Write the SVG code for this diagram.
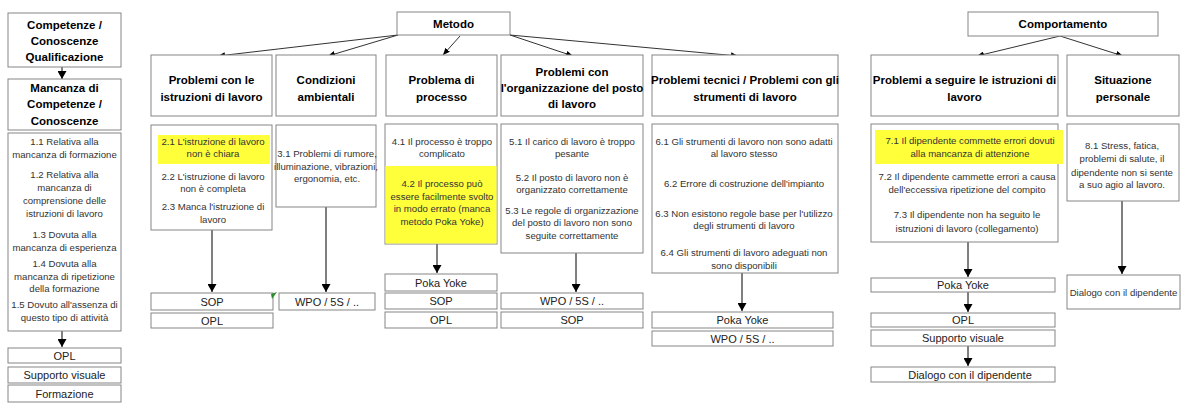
<svg xmlns="http://www.w3.org/2000/svg" width="1190" height="409" viewBox="0 0 1190 409">
<style>
.b{fill:#fff;stroke:#858585;stroke-width:1}
.y{fill:#ffff3a}
.h{font-family:"Liberation Sans",Arial,sans-serif;font-weight:bold;font-size:11.5px;fill:#000;text-anchor:middle}
.t{font-family:"Liberation Sans",Arial,sans-serif;font-size:9.6px;fill:#333;text-anchor:middle}
.s{font-family:"Liberation Sans",Arial,sans-serif;font-size:11px;fill:#222;text-anchor:middle}
.c{stroke:#000;stroke-width:1;fill:none;marker-end:url(#a)}
.d{stroke:#333;stroke-width:1;fill:none;marker-end:url(#a2)}
</style>
<defs>
<marker id="a" markerWidth="8" markerHeight="9" refX="8" refY="4.5" orient="auto" markerUnits="userSpaceOnUse"><path d="M0,0 L8,4.5 L0,9 z" fill="#000"/></marker>
<marker id="a2" markerWidth="7" markerHeight="6" refX="7" refY="3" orient="auto" markerUnits="userSpaceOnUse"><path d="M0,0 L7,3 L0,6 z" fill="#000"/></marker>
</defs>
<rect width="1190" height="409" fill="#fff"/>

<g id="connectors">
<line class="c" x1="62" y1="67" x2="62" y2="79"/>
<line class="c" x1="62" y1="331" x2="62" y2="347"/>
<line class="c" x1="212" y1="230" x2="212" y2="292"/>
<line class="c" x1="326" y1="207" x2="326" y2="292"/>
<line class="c" x1="437" y1="244" x2="437" y2="273"/>
<line class="c" x1="576" y1="253" x2="576" y2="292"/>
<line class="c" x1="742" y1="273" x2="742" y2="311"/>
<line class="c" x1="968" y1="242" x2="968" y2="277"/>
<line class="c" x1="968" y1="292" x2="968" y2="312"/>
<line class="c" x1="968" y1="346" x2="968" y2="366"/>
<line class="c" x1="1122" y1="201" x2="1122" y2="274"/>
<line class="d" x1="398" y1="35" x2="218" y2="56"/>
<line class="d" x1="398" y1="35" x2="328" y2="56"/>
<line class="d" x1="460" y1="36" x2="443" y2="55"/>
<line class="d" x1="510" y1="35" x2="573" y2="56"/>
<line class="d" x1="510" y1="35" x2="738" y2="56"/>
<line class="d" x1="1060" y1="36" x2="977" y2="56"/>
<line class="d" x1="1060" y1="36" x2="1123" y2="56"/>
</g>

<g id="metodo"><rect class="b" x="397" y="12" width="113" height="23"/><text class="h" x="453.5" y="28">Metodo</text></g>
<g id="comportamento"><rect class="b" x="968" y="12" width="190" height="24"/><text class="h" x="1063" y="28">Comportamento</text></g>

<g id="competenze"><rect class="b" x="8" y="13" width="113" height="54"/>
<text class="h" x="64.5" y="29">Competenze /</text><text class="h" x="64.5" y="45">Conoscenze</text><text class="h" x="64.5" y="61">Qualificazione</text></g>
<g id="mancanza"><rect class="b" x="8" y="79" width="113" height="51"/>
<text class="h" x="64.5" y="92">Mancanza di</text><text class="h" x="64.5" y="108">Competenze /</text><text class="h" x="64.5" y="125">Conoscenze</text></g>
<g id="cause1"><rect class="b" x="8" y="133" width="113" height="198"/>
<text class="t" x="64.5" y="144.5">1.1 Relativa alla</text>
<text class="t" x="64.5" y="157.5">mancanza di formazione</text>
<text class="t" x="64.5" y="177.5">1.2 Relativa alla</text>
<text class="t" x="64.5" y="190.5">mancanza di</text>
<text class="t" x="64.5" y="203.5">comprensione delle</text>
<text class="t" x="64.5" y="216.5">istruzioni di lavoro</text>
<text class="t" x="64.5" y="237.5">1.3 Dovuta alla</text>
<text class="t" x="64.5" y="250.5">mancanza di esperienza</text>
<text class="t" x="64.5" y="266.5">1.4 Dovuta alla</text>
<text class="t" x="64.5" y="279.5">mancanza di ripetizione</text>
<text class="t" x="64.5" y="291.5">della formazione</text>
<text class="t" x="64.5" y="307.5">1.5 Dovuto all'assenza di</text>
<text class="t" x="64.5" y="320.5">questo tipo di attività</text></g>
<g id="opl1"><rect class="b" x="8" y="348" width="113" height="15"/><text class="s" x="64.5" y="359.5">OPL</text></g>
<g id="supporto1"><rect class="b" x="8" y="367" width="113" height="16"/><text class="s" x="64.5" y="379">Supporto visuale</text></g>
<g id="formazione1"><rect class="b" x="8" y="385" width="113" height="17"/><text class="s" x="64.5" y="397.5">Formazione</text></g>

<g id="istruzioni"><rect class="b" x="151" y="55" width="121" height="61"/>
<text class="h" x="211.5" y="84">Problemi con le</text><text class="h" x="211.5" y="101">istruzioni di lavoro</text></g>
<g id="cause2"><rect class="b" x="151" y="125" width="121" height="105"/>
<rect class="y" x="158" y="135" width="112" height="29"/>
<text class="t" x="213" y="144.5">2.1 L'istruzione di lavoro</text>
<text class="t" x="213" y="156.5">non è chiara</text>
<text class="t" x="213" y="179.5">2.2 L'istruzione di lavoro</text>
<text class="t" x="213" y="191.5">non è completa</text>
<text class="t" x="213" y="209.5">2.3 Manca l'istruzione di</text>
<text class="t" x="213" y="222.5">lavoro</text></g>
<g id="sop2"><rect class="b" x="151" y="293" width="122" height="17"/><text class="s" x="212" y="305.5">SOP</text></g>
<g id="opl2"><rect class="b" x="151" y="313" width="122" height="15"/><text class="s" x="212" y="324.5">OPL</text></g>
<polygon points="271,294 277,292 272,299" fill="#2e8b2e"/>

<g id="condizioni"><rect class="b" x="276" y="55" width="100" height="61"/>
<text class="h" x="326" y="84">Condizioni</text><text class="h" x="326" y="101">ambientali</text></g>
<g id="cause3"><rect class="b" x="276" y="125" width="100" height="82"/>
<text class="t" x="327" y="156.5">3.1 Problemi di rumore,</text>
<text class="t" x="326" y="169.5">illuminazione, vibrazioni,</text>
<text class="t" x="327" y="181.5">ergonomia, etc.</text></g>
<g id="wpo3"><rect class="b" x="279" y="293" width="96" height="17"/><text class="s" x="327" y="305.5">WPO / 5S / ..</text></g>

<g id="processo"><rect class="b" x="386" y="55" width="111" height="61"/>
<text class="h" x="441.5" y="84">Problema di</text><text class="h" x="441.5" y="101">processo</text></g>
<g id="cause4"><rect class="b" x="385" y="124" width="112" height="120"/>
<rect class="y" x="385.5" y="166" width="111" height="77.5"/>
<text class="t" x="442" y="144.5">4.1  Il processo è troppo</text>
<text class="t" x="442" y="156.5">complicato</text>
<text class="t" x="442" y="186.5">4.2 Il processo può</text>
<text class="t" x="442" y="199.5">essere facilmente svolto</text>
<text class="t" x="442" y="211.5">in modo errato (manca</text>
<text class="t" x="442" y="224.5">metodo Poka Yoke)</text></g>
<g id="poka4"><rect class="b" x="385" y="274" width="112" height="17"/><text class="s" x="441" y="286.5">Poka Yoke</text></g>
<g id="sop4"><rect class="b" x="385" y="293" width="112" height="16"/><text class="s" x="441" y="305">SOP</text></g>
<g id="opl4"><rect class="b" x="385" y="312" width="112" height="16"/><text class="s" x="441" y="324">OPL</text></g>

<g id="organizzazione"><rect class="b" x="501" y="55" width="142" height="61"/>
<text class="h" x="572" y="76">Problemi con</text><text class="h" x="572" y="92">l'organizzazione del posto</text><text class="h" x="572" y="108">di lavoro</text></g>
<g id="cause5"><rect class="b" x="501" y="124" width="142" height="129"/>
<text class="t" x="572" y="144.5">5.1 Il carico di lavoro è troppo</text>
<text class="t" x="572" y="156.5">pesante</text>
<text class="t" x="572" y="180.5">5.2 Il posto di lavoro non è</text>
<text class="t" x="572" y="192.5">organizzato correttamente</text>
<text class="t" x="572" y="213.5">5.3 Le regole di organizzazione</text>
<text class="t" x="572" y="225.5">del posto di lavoro non sono</text>
<text class="t" x="572" y="238.5">seguite correttamente</text></g>
<g id="wpo5"><rect class="b" x="501" y="293" width="142" height="16"/><text class="s" x="572" y="305">WPO / 5S / ..</text></g>
<g id="sop5"><rect class="b" x="501" y="312" width="142" height="16"/><text class="s" x="572" y="324">SOP</text></g>

<g id="tecnici"><rect class="b" x="652" y="55" width="186" height="61"/>
<text class="h" x="745" y="84">Problemi tecnici / Problemi con gli</text><text class="h" x="745" y="101">strumenti di lavoro</text></g>
<g id="cause6"><rect class="b" x="652" y="124" width="186" height="149"/>
<text class="t" x="744" y="144.5">6.1 Gli strumenti di lavoro non sono adatti</text>
<text class="t" x="744" y="156.5">al lavoro stesso</text>
<text class="t" x="744" y="186.5">6.2 Errore di costruzione dell'impianto</text>
<text class="t" x="744" y="216.5">6.3 Non esistono regole base per l'utilizzo</text>
<text class="t" x="744" y="228.5">degli strumenti di lavoro</text>
<text class="t" x="744" y="255.5">6.4 Gli strumenti di lavoro adeguati non</text>
<text class="t" x="744" y="268.5">sono disponibili</text></g>
<g id="poka6"><rect class="b" x="652" y="312" width="181" height="16"/><text class="s" x="742.5" y="324">Poka Yoke</text></g>
<g id="wpo6"><rect class="b" x="652" y="331" width="181" height="15"/><text class="s" x="742.5" y="342.5">WPO / 5S / ..</text></g>

<g id="seguire"><rect class="b" x="871" y="55" width="187" height="61"/>
<text class="h" x="964.5" y="84">Problemi a seguire le istruzioni di</text><text class="h" x="964.5" y="101">lavoro</text></g>
<g id="cause7"><rect class="b" x="871" y="124" width="187" height="118"/>
<rect class="y" x="875" y="130" width="188" height="34"/>
<text class="t" x="970" y="143.5">7.1 Il dipendente commette errori dovuti</text>
<text class="t" x="970" y="156.5">alla mancanza di attenzione</text>
<text class="t" x="967" y="179.5">7.2 Il dipendente cammette errori a causa</text>
<text class="t" x="967" y="192.5">dell'eccessiva ripetizione del compito</text>
<text class="t" x="967" y="217.5">7.3 Il dipendente non ha seguito le</text>
<text class="t" x="967" y="231.5">istruzioni di lavoro (collegamento)</text></g>
<g id="poka7"><rect class="b" x="871" y="278" width="184" height="14"/><text class="s" x="963" y="289">Poka Yoke</text></g>
<g id="opl7"><rect class="b" x="871" y="313" width="184" height="14"/><text class="s" x="963" y="324">OPL</text></g>
<g id="supporto7"><rect class="b" x="871" y="330" width="184" height="16"/><text class="s" x="963" y="342">Supporto visuale</text></g>
<g id="dialogo7"><rect class="b" x="871" y="367" width="184" height="15"/><text class="s" x="970" y="378.5">Dialogo con il dipendente</text></g>

<g id="personale"><rect class="b" x="1067" y="55" width="112" height="61"/>
<text class="h" x="1123" y="84">Situazione</text><text class="h" x="1123" y="101">personale</text></g>
<g id="cause8"><rect class="b" x="1067" y="124" width="112" height="77"/>
<text class="t" x="1122" y="148.5">8.1 Stress, fatica,</text>
<text class="t" x="1122" y="161.5">problemi di salute, il</text>
<text class="t" x="1122" y="175.5">dipendente non si sente</text>
<text class="t" x="1122" y="187.5">a suo agio al lavoro.</text></g>
<g id="dialogo8"><rect class="b" x="1067" y="275" width="113" height="34"/><text class="t" x="1123.5" y="295.5">Dialogo con il dipendente</text></g>
</svg>
